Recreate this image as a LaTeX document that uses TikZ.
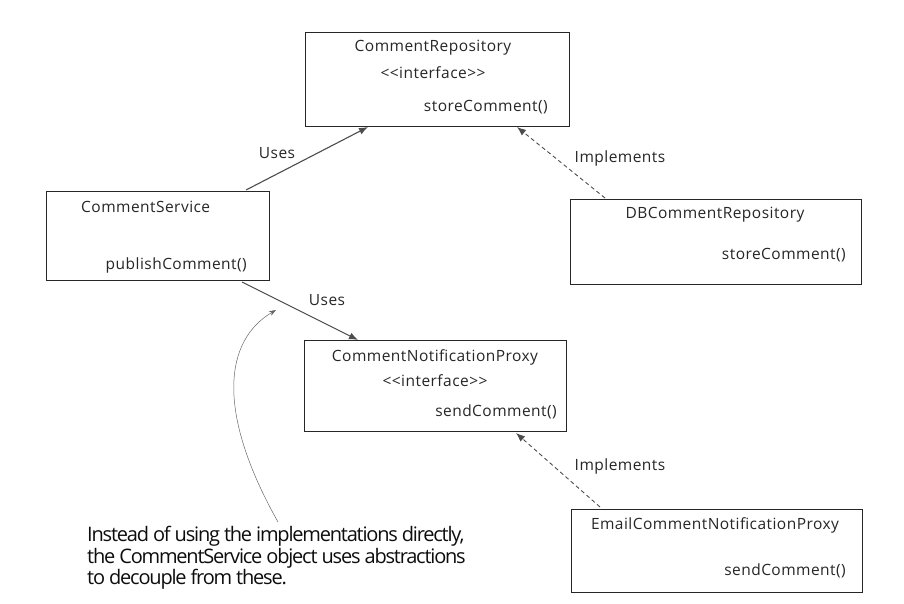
\documentclass[tikz,border=0pt]{standalone}
\usepackage{fontspec}
\setmainfont{Open Sans}
\usetikzlibrary{arrows.meta}
\begin{document}
\begin{tikzpicture}[x=1pt,y=-1pt,
  box/.style={draw=black!85,line width=0.9pt},
  lbl/.style={font=\fontsize{15.5}{18}\selectfont\addfontfeatures{LetterSpace=3},text=black!85,inner sep=0pt},
  uses/.style={draw=black!70,line width=1.1pt,-{Latex[length=9pt,width=7pt]}},
  impl/.style={draw=black!70,line width=0.9pt,dashed,dash pattern=on 4pt off 3pt,-{Latex[length=9pt,width=7pt]}},
  note/.style={draw=black!60,line width=0.5pt,-{Stealth[length=7pt,width=5pt]}}]
\useasboundingbox (0,0) rectangle (904,604);
% boxes
\node[box,minimum width=264pt,minimum height=94pt,anchor=north west,inner sep=0pt] (repo) at (305,32) {};
\node[lbl] at (433,48) {CommentRepository};
\node[lbl] at (433,73) {<{}<interface>{}>};
\node[lbl,anchor=east] at (548,107) {storeComment()};

\node[box,minimum width=223pt,minimum height=89pt,anchor=north west,inner sep=0pt] (svc) at (46,191) {};
\node[lbl,anchor=west] at (81,207) {CommentService};
\node[lbl,anchor=east] at (247,265) {publishComment()};

\node[box,minimum width=291pt,minimum height=85pt,anchor=north west,inner sep=0pt] (db) at (570,199) {};
\node[lbl] at (715,215) {DBCommentRepository};
\node[lbl,anchor=east] at (846,255) {storeComment()};

\node[box,minimum width=262pt,minimum height=91pt,anchor=north west,inner sep=0pt] (proxy) at (304,340) {};
\node[lbl] at (435,357) {CommentNotificationProxy};
\node[lbl] at (435,381) {<{}<interface>{}>};
\node[lbl,anchor=east] at (557,412) {sendComment()};

\node[box,minimum width=291pt,minimum height=83pt,anchor=north west,inner sep=0pt] (email) at (571,509) {};
\node[lbl] at (715,525) {EmailCommentNotificationProxy};
\node[lbl,anchor=east] at (846,571) {sendComment()};

% connectors
\coordinate (u1s) at (246,190); \coordinate (u1e) at (368,127);
\draw[uses] (u1s) -- (u1e);
\node[lbl] (u1l) at (277,153) {Uses};
\coordinate (i1s) at (605,198); \coordinate (i1e) at (517,127);
\draw[impl] (i1s) -- (i1e);
\node[lbl] (i1l) at (620,158) {Implements};
\coordinate (u2s) at (242,282); \coordinate (u2e) at (358,340);
\draw[uses] (u2s) -- (u2e);
\node[lbl] (u2l) at (327,300) {Uses};
\coordinate (i2s) at (600,507); \coordinate (i2e) at (516,433);
\draw[impl] (i2s) -- (i2e);
\node[lbl] (i2l) at (620,466) {Implements};

% note
\coordinate (ns) at (278,522); \coordinate (ne) at (276,310);
\draw[note] (ns) .. controls (215,410) and (225,340) .. (ne);
\node[anchor=north west,align=left,inner sep=0pt,font=\fontsize{20}{21.5}\selectfont,text=black!95] (note) at (87,526)
  {\addfontfeatures{LetterSpace=-6}Instead of using the implementations directly,\\\addfontfeatures{LetterSpace=-6}the CommentService object uses abstractions\\\addfontfeatures{LetterSpace=-6}to decouple from these.};
\end{tikzpicture}
\end{document}
